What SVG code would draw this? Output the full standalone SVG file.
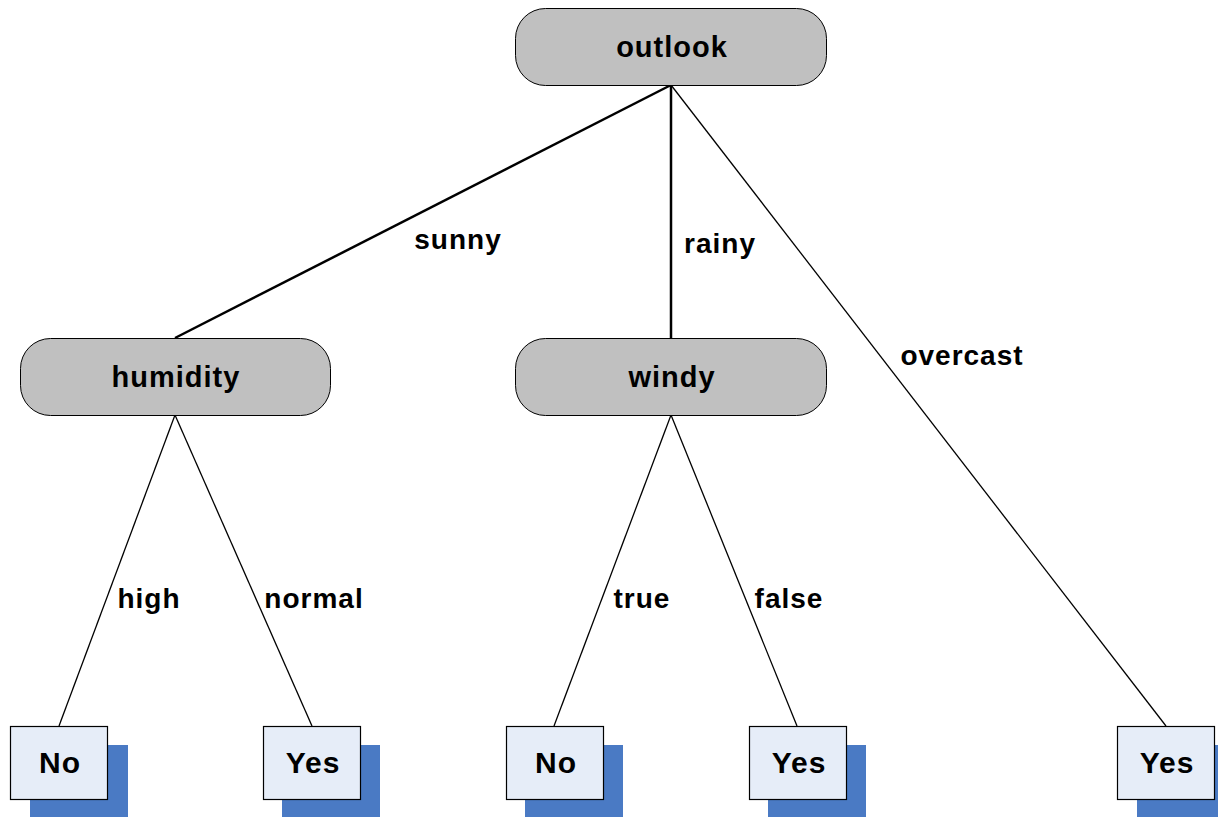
<svg xmlns="http://www.w3.org/2000/svg" width="1218" height="817" viewBox="0 0 1218 817">
  <style>
    .dec { fill: #c0c0c0; stroke: #000; stroke-width: 1; }
    .leaf { fill: #e6edf8; stroke: #000; stroke-width: 1.2; }
    .shadow { fill: #4a7ac4; }
    .t { font-family: "Liberation Sans", Arial, sans-serif; font-weight: bold; font-size: 29px; letter-spacing: 1px; fill: #000; text-anchor: middle; }
    .lt { font-size: 30px; }
    .lbl { font-family: "Liberation Sans", Arial, sans-serif; font-weight: bold; font-size: 28px; letter-spacing: 1px; fill: #000; text-anchor: middle; }
    .thick { stroke: #000; stroke-width: 2.5; fill: none; }
    .thin { stroke: #000; stroke-width: 1.3; fill: none; }
  </style>
  <rect width="1218" height="817" fill="#fff"/>

  <g id="connectors">
    <line class="thick" x1="671" y1="85" x2="175" y2="338"/>
    <line class="thick" x1="671" y1="85" x2="671" y2="338"/>
    <line class="thin" x1="671" y1="85" x2="1166" y2="726"/>
    <line class="thin" x1="175" y1="415" x2="59" y2="726"/>
    <line class="thin" x1="175" y1="415" x2="312" y2="726"/>
    <line class="thin" x1="671" y1="415" x2="554" y2="726"/>
    <line class="thin" x1="671" y1="415" x2="797" y2="726"/>
    <text class="lbl" x="458" y="249">sunny</text>
    <text class="lbl" x="720" y="253">rainy</text>
    <text class="lbl" x="962" y="365">overcast</text>
    <text class="lbl" x="149" y="608">high</text>
    <text class="lbl" x="314" y="608">normal</text>
    <text class="lbl" x="642" y="608">true</text>
    <text class="lbl" x="789" y="608">false</text>
  </g>

  <g id="outlook">
    <rect class="dec" x="515.5" y="8.5" width="311" height="77" rx="30" ry="30"/>
    <text class="t" x="672" y="57">outlook</text>
  </g>
  <g id="humidity">
    <rect class="dec" x="20.5" y="338.5" width="310" height="77" rx="30" ry="30"/>
    <text class="t" x="176" y="387">humidity</text>
  </g>
  <g id="windy">
    <rect class="dec" x="515.5" y="338.5" width="311" height="77" rx="30" ry="30"/>
    <text class="t" x="672" y="387">windy</text>
  </g>

  <g id="leaf-humidity-high">
    <rect class="shadow" x="30" y="745" width="98" height="75"/>
    <rect class="leaf" x="10.5" y="726.5" width="97" height="73"/>
    <text class="t lt" x="60" y="773">No</text>
  </g>
  <g id="leaf-humidity-normal">
    <rect class="shadow" x="282" y="745" width="98" height="75"/>
    <rect class="leaf" x="263.5" y="726.5" width="97" height="73"/>
    <text class="t lt" x="313" y="773">Yes</text>
  </g>
  <g id="leaf-windy-true">
    <rect class="shadow" x="525" y="745" width="98" height="75"/>
    <rect class="leaf" x="506.5" y="726.5" width="97" height="73"/>
    <text class="t lt" x="556" y="773">No</text>
  </g>
  <g id="leaf-windy-false">
    <rect class="shadow" x="768" y="745" width="98" height="75"/>
    <rect class="leaf" x="749.5" y="726.5" width="97" height="73"/>
    <text class="t lt" x="799" y="773">Yes</text>
  </g>
  <g id="leaf-overcast">
    <rect class="shadow" x="1137" y="745" width="98" height="75"/>
    <rect class="leaf" x="1117.5" y="726.5" width="97" height="73"/>
    <text class="t lt" x="1167" y="773">Yes</text>
  </g>
</svg>
